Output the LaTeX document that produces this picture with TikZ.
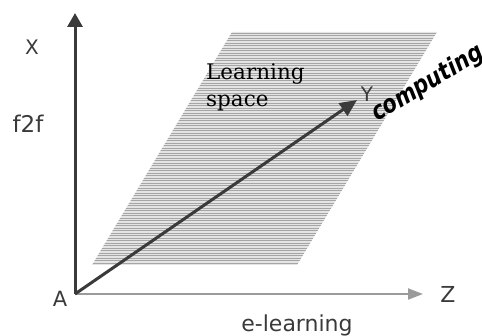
\documentclass[tikz,border=0pt]{standalone}
\usepackage{fontspec}
\usepackage{xcolor}
\usetikzlibrary{arrows.meta}
\newfontfamily\labelfont{DejaVu Sans}
\newfontfamily\serifont{DejaVu Serif}
\newfontfamily\compfont{DejaVu Sans}[FakeStretch=0.84]
\definecolor{axisdark}{RGB}{58, 58, 58}
\definecolor{axisgray}{RGB}{120, 120, 120}
\definecolor{tipgray}{RGB}{155, 155, 155}
\definecolor{planefill}{RGB}{228, 228, 228}
\definecolor{planeline}{RGB}{165, 165, 165}
\tikzset{
    axislabel/.style={anchor=base, font=\labelfont, text=axisdark, inner sep=0pt},
    axisarr/.style={-{Triangle[length=14pt, width=15pt]}, line width=3pt, axisdark},
    flatarr/.style={-{Triangle[length=15pt, width=11pt, fill=tipgray]}, line width=2pt, axisgray, tipgray},
    plane/.style={fill=planefill}
}

\begin{document}
\begin{tikzpicture}[x=1pt, y=-1pt]
    \useasboundingbox (0,0) rectangle (482,336);
    % learning plane with ruled texture
    \coordinate (p1) at (92,265); \coordinate (p2) at (297,265);
    \coordinate (p3) at (437,32); \coordinate (p4) at (232,32);
    \fill[plane] (p1)--(p2)--(p3)--(p4)--cycle;
    \begin{scope}
        \clip (p1)--(p2)--(p3)--(p4)--cycle;
        \foreach \yy in {33,35.5,...,265} \draw[planeline, line width=0.6pt] (85,\yy)--(440,\yy);
    \end{scope}
    % axes
    \coordinate (A) at (75,294);
    \coordinate (Xtip) at (75,13);
    \coordinate (Ztip) at (423,294);
    \coordinate (Ytip) at (357,100);
    \draw[flatarr] (A)--(Ztip);
    \draw[axisarr] (A)--(Xtip);
    \draw[-{Triangle[length=17pt, width=15pt]}, line width=3pt, axisdark] (A)--(Ytip);
    % labels
    \node[axislabel, font=\labelfont\fontsize{20}{20}\selectfont] (xlab) at (32,55) {X};
    \node[axislabel, font=\labelfont\fontsize{23}{23}\selectfont] (f2f) at (28,133) {f2f};
    \node[axislabel, font=\labelfont\fontsize{21}{21}\selectfont] (alab) at (60,307) {A};
    \node[axislabel, font=\labelfont\fontsize{22}{22}\selectfont] (zlab) at (448,303) {Z};
    \node[axislabel, font=\labelfont\fontsize{22}{22}\selectfont] (elearn) at (297,332) {e-learning};
    \node[axislabel, font=\labelfont\fontsize{20}{20}\selectfont] (ylab) at (367,102) {Y};
    \node[anchor=base west, inner sep=0pt, align=left, text=black,
          font=\serifont\fontsize{21.5}{27}\selectfont] (space) at (206,107) {Learning\\space};
    \node[anchor=base west, inner sep=0pt, rotate=31, text=black,
          font=\compfont\bfseries\itshape\fontsize{25}{25}\selectfont] (comp) at (377,122) {computing};
\end{tikzpicture}
\end{document}
